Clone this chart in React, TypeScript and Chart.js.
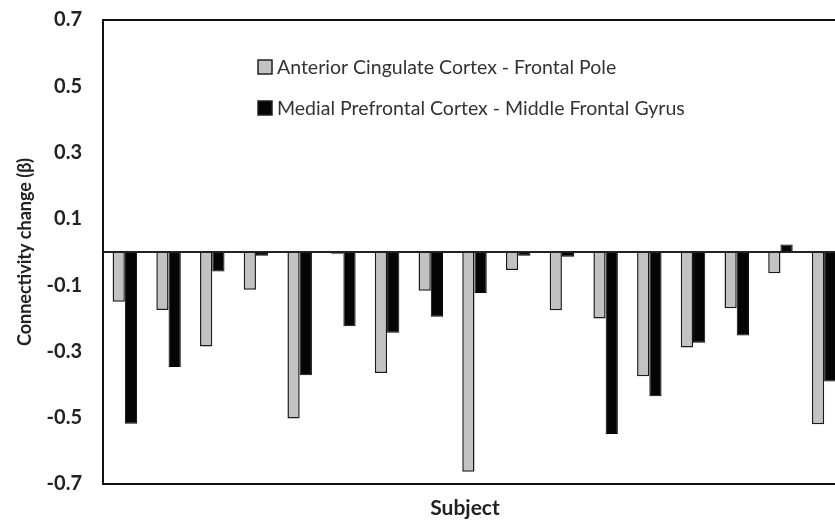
import React, { useEffect, useRef } from "react";
import { Chart, registerables } from "chart.js";

Chart.register(...registerables);

const subjects = ["1","2","3","4","5","6","7","8","9","10","11","12","13","14","15","16","17"];
const accFrontalPole = [-0.150,-0.175,-0.285,-0.114,-0.502,-0.005,-0.365,-0.117,-0.663,-0.054,-0.176,-0.201,-0.375,-0.288,-0.170,-0.064,-0.520];
const mpfcMiddleFrontal = [-0.518,-0.347,-0.059,-0.011,-0.372,-0.224,-0.244,-0.195,-0.124,-0.011,-0.014,-0.549,-0.435,-0.274,-0.252,0.023,-0.391];
const seriesLabels = ["Anterior Cingulate Cortex - Frontal Pole", "Medial Prefrontal Cortex - Middle Frontal Gyrus"];
const yTitle = "Connectivity change (β)";
const xTitle = "Subject";

const FONT = "Lato, 'Open Sans', sans-serif";

const frameAndLegend = {
  id: "frameAndLegend",
  afterDatasetsDraw(chart: any) {
    const { ctx, chartArea } = chart;
    const y = chart.scales.y;
    ctx.save();
    ctx.strokeStyle = "#111";
    ctx.lineWidth = 2;
    ctx.strokeRect(chartArea.left, chartArea.top, chartArea.right - chartArea.left, chartArea.bottom - chartArea.top);
    const y0 = y.getPixelForValue(0);
    ctx.beginPath();
    ctx.moveTo(chartArea.left, y0);
    ctx.lineTo(chartArea.right, y0);
    ctx.lineWidth = 2;
    ctx.strokeStyle = "#222";
    ctx.stroke();
    const lx = 258;
    const rows = [67, 108];
    chart.data.datasets.forEach((ds: any, i: number) => {
      const cy = rows[i];
      ctx.fillStyle = ds.backgroundColor;
      ctx.fillRect(lx, cy - 7, 14, 14);
      ctx.strokeStyle = "#222";
      ctx.lineWidth = 1.5;
      ctx.strokeRect(lx, cy - 7, 14, 14);
      ctx.fillStyle = "#333";
      ctx.font = `19.5px ${FONT}`;
      ctx.textBaseline = "middle";
      ctx.textAlign = "left";
      ctx.fillText(ds.label, lx + 19, cy + 1);
    });
    // x axis title
    ctx.fillStyle = "#222";
    ctx.font = `bold 21px ${FONT}`;
    ctx.textAlign = "center";
    ctx.textBaseline = "middle";
    ctx.fillText(xTitle, 465, 508);
    ctx.restore();
  },
};

export default function App() {
  const ref = useRef<HTMLCanvasElement | null>(null);
  useEffect(() => {
    if (!ref.current) return;
    const chart = new Chart(ref.current, {
      type: "bar",
      data: {
        labels: subjects,
        datasets: [
          {
            label: seriesLabels[0],
            data: accFrontalPole,
            backgroundColor: "#c2c2c2",
            borderColor: "#1a1a1a",
            borderWidth: 1.5,
          },
          {
            label: seriesLabels[1],
            data: mpfcMiddleFrontal,
            backgroundColor: "#050505",
            borderColor: "#050505",
            borderWidth: 1,
          },
        ],
      },
      options: {
        animation: false,
        responsive: true,
        maintainAspectRatio: false,
        layout: { padding: { top: 20, right: 14, left: 0, bottom: 0 } },
        datasets: { bar: { categoryPercentage: 0.56, barPercentage: 1.0 } },
        plugins: {
          legend: { display: false },
          tooltip: { enabled: false },
        },
        scales: {
          x: {
            grid: { display: false, drawTicks: false },
            border: { display: false },
            ticks: { display: false },
            title: { display: false },
            afterFit(scale: any) {
              scale.height = 36;
              scale.paddingLeft = 0;
              scale.paddingRight = 0;
            },
          },
          y: {
            min: -0.7,
            max: 0.7,
            grid: { display: false, drawTicks: false },
            border: { display: false },
            ticks: {
              stepSize: 0.2,
              padding: 21,
              color: "#222",
              font: { family: FONT, size: 20, weight: "bold" },
              callback: (v: any) => Number(v).toFixed(1),
            },
            title: {
              display: true,
              text: yTitle,
              font: { family: FONT, size: 18, weight: "bold" },
              color: "#222",
              padding: { top: 14, bottom: 0 },
            },
            afterFit(scale: any) {
              scale.width = 103;
              scale.paddingTop = 0;
              scale.paddingBottom = 0;
            },
          },
        },
      },
      plugins: [frameAndLegend],
    });
    return () => chart.destroy();
  }, []);
  return (
    <div style={{ position: "fixed", left: 0, top: 0, width: 835, height: 520, overflow: "hidden", background: "#fff" }}>
      <div style={{ position: "relative", width: 860, height: 520 }}>
        <canvas ref={ref} />
      </div>
    </div>
  );
}
